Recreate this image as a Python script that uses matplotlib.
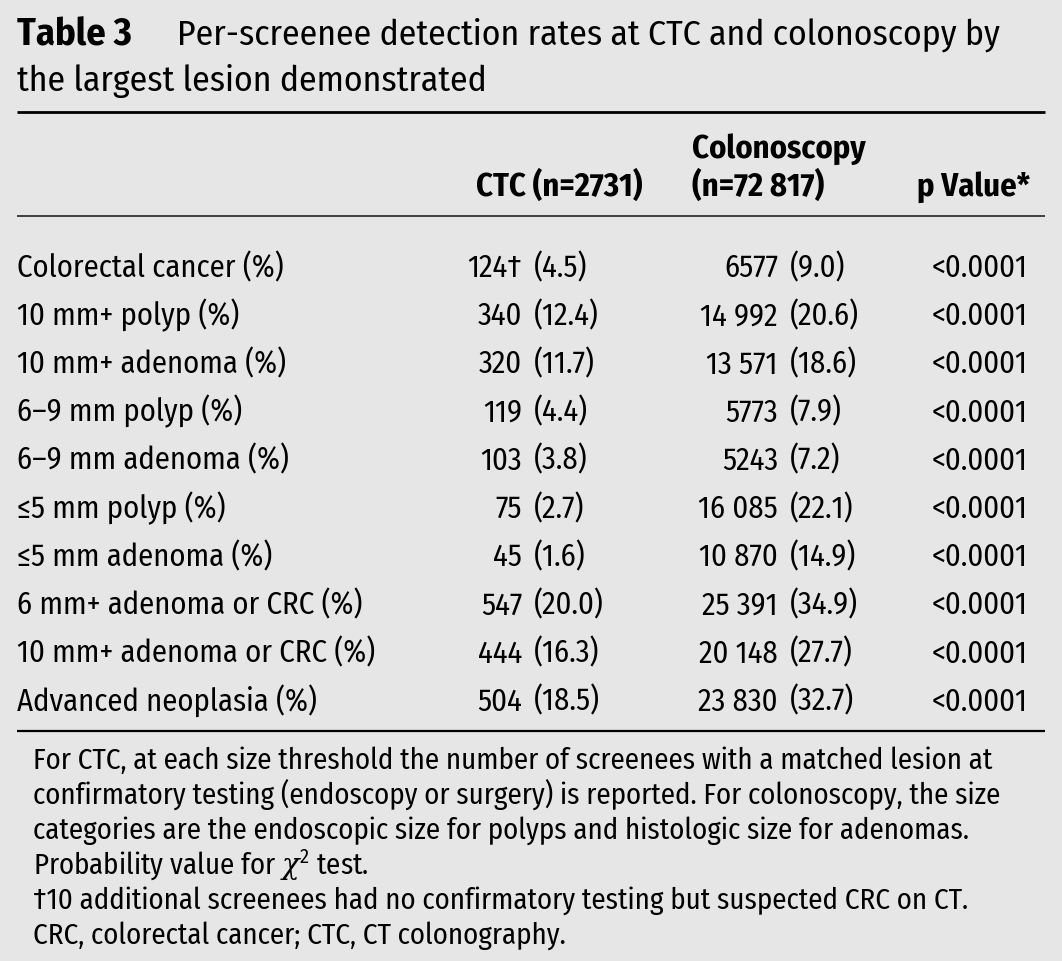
import matplotlib
matplotlib.use("Agg")
import matplotlib.pyplot as plt

title_bold = "Table 3"
title_line1 = "Per-screenee detection rates at CTC and colonoscopy by"
title_line2 = "the largest lesion demonstrated"

col_ctc_header = "CTC (n=2731)"
col_col_header = ["Colonoscopy", "(n=72 817)"]
col_p_header = "p Value*"

row_labels = ["Colorectal cancer (%)", "10 mm+ polyp (%)", "10 mm+ adenoma (%)",
              "6\u20139 mm polyp (%)", "6\u20139 mm adenoma (%)", "\u22645 mm polyp (%)",
              "\u22645 mm adenoma (%)", "6 mm+ adenoma or CRC (%)",
              "10 mm+ adenoma or CRC (%)", "Advanced neoplasia (%)"]
ctc_n = ["124\u2020", "340", "320", "119", "103", "75", "45", "547", "444", "504"]
ctc_pct = ["4.5", "12.4", "11.7", "4.4", "3.8", "2.7", "1.6", "20.0", "16.3", "18.5"]
col_n = ["6577", "14 992", "13 571", "5773", "5243", "16 085", "10 870", "25 391", "20 148", "23 830"]
col_pct = ["9.0", "20.6", "18.6", "7.9", "7.2", "22.1", "14.9", "34.9", "27.7", "32.7"]
p_values = ["<0.0001"] * 10

footnotes = [
    "For CTC, at each size threshold the number of screenees with a matched lesion at",
    "confirmatory testing (endoscopy or surgery) is reported. For colonoscopy, the size",
    "categories are the endoscopic size for polyps and histologic size for adenomas.",
    "Probability value for $\\chi^2$ test.",
    "\u202010 additional screenees had no confirmatory testing but suspected CRC on CT.",
    "CRC, colorectal cancer; CTC, CT colonography.",
]

FONT = ["Fira Sans Condensed", "Roboto Condensed", "DejaVu Sans"]
plt.rcParams['font.family'] = FONT
plt.rcParams['mathtext.fontset'] = 'custom'
plt.rcParams['mathtext.rm'] = FONT[0]
plt.rcParams['mathtext.it'] = 'DejaVu Serif:italic'

W, H = 1062, 962
BG = "#e6e6e6"
REG = 'normal'
fig = plt.figure(figsize=(W / 100, H / 100), dpi=100, facecolor=BG)
ax = fig.add_axes([0, 0, 1, 1])
ax.set_xlim(0, W)
ax.set_ylim(H, 0)
ax.axis('off')
ax.set_facecolor(BG)
renderer = fig.canvas.get_renderer()


def fit_size(s, target_px, weight=REG):
    t = ax.text(0, 0, s, fontsize=10, fontweight=weight)
    w = t.get_window_extent(renderer).width
    t.remove()
    return 10 * target_px / w


TS = fit_size(title_line2, 470)
TBS = min(fit_size(title_bold, 117, 'bold'), TS * 1.08)
BS = fit_size(row_labels[0], 266)
HS = min(fit_size(col_ctc_header, 182, 'bold'), BS * 1.06)
FS = fit_size(footnotes[0], 960)

# title
ax.text(17, 45, title_bold, fontsize=TBS, fontweight='bold', va='baseline', ha='left')
ax.text(177, 45, title_line1, fontsize=TS, fontweight=REG, va='baseline', ha='left')
ax.text(17, 91, title_line2, fontsize=TS, fontweight=REG, va='baseline', ha='left')

# rules
x0, x1 = 17, 1045
ax.plot([x0, x1], [113, 113], color='black', lw=2.0, solid_capstyle='butt')
ax.plot([x0, x1], [217, 217], color='#333333', lw=1.3, solid_capstyle='butt')
ax.plot([x0, x1], [732, 732], color='black', lw=1.6, solid_capstyle='butt')

# headers
ax.text(643, 196, col_ctc_header, fontsize=HS, fontweight='bold', ha='right', va='baseline')
ax.text(692, 158, col_col_header[0], fontsize=HS, fontweight='bold', ha='left', va='baseline')
ax.text(692, 196, col_col_header[1], fontsize=HS, fontweight='bold', ha='left', va='baseline')
ax.text(1030, 196, col_p_header, fontsize=HS, fontweight='bold', ha='right', va='baseline')

# rows
y_first, dy = 277, 48.2
for i, lab in enumerate(row_labels):
    y = y_first + i * dy
    ax.text(17, y, lab, fontsize=BS, fontweight=REG, ha='left', va='baseline')
    ax.text(522, y, ctc_n[i], fontsize=BS, fontweight=REG, ha='right', va='baseline')
    ax.text(534, y, "(" + ctc_pct[i] + ")", fontsize=BS, fontweight=REG, ha='left', va='baseline')
    ax.text(778, y, col_n[i], fontsize=BS, fontweight=REG, ha='right', va='baseline')
    ax.text(790, y, "(" + col_pct[i] + ")", fontsize=BS, fontweight=REG, ha='left', va='baseline')
    ax.text(1028, y, p_values[i], fontsize=BS, fontweight=REG, ha='right', va='baseline')

# footnotes
fy0, fdy = 769, 35
for j, line in enumerate(footnotes):
    ax.text(33, fy0 + j * fdy, line, fontsize=FS, fontweight=REG, ha='left', va='baseline')

fig.savefig("out.png", dpi=100, facecolor=BG)
